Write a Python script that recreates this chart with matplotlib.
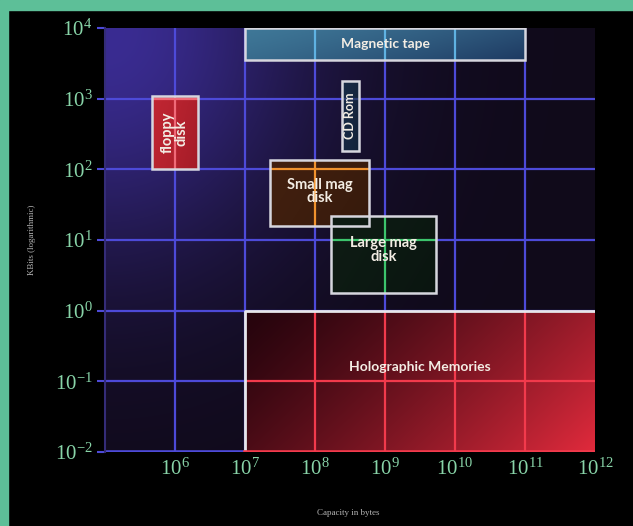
import numpy as np
import matplotlib
matplotlib.use('Agg')
import matplotlib.pyplot as plt
from matplotlib.patches import Rectangle
from matplotlib.ticker import FixedLocator, FixedFormatter, NullLocator

plt.rcParams['font.family'] = ['Liberation Serif', 'DejaVu Sans']

# ---------------- data ----------------
devices = ['Magnetic tape', 'floppy\ndisk', 'CD Rom', 'Small mag\ndisk',
           'Large mag\ndisk', 'Holographic Memories']
cap_lo = [1e7, 4.7e5, 2.4e8, 2.3e7, 1.7e8, 1e7]       # bytes
cap_hi = [1e11, 2.1e6, 4.3e8, 6.0e8, 5.4e9, 1e12]
rate_lo = [3.5e3, 100, 180, 16, 1.8, 1e-2]           # KBits
rate_hi = [1e4, 1100, 1800, 135, 22, 1]
x_exponents = [6, 7, 8, 9, 10, 11, 12]
y_exponents = [-2, -1, 0, 1, 2, 3, 4]
x_tick_labels = [r'$\mathregular{10^{%d}}$' % e for e in x_exponents]
y_tick_labels = [r'$\mathregular{10^{%d}}$' % e for e in y_exponents]
x_label = 'Capacity in bytes'
y_label = 'KBits (logarithmic)'

# ---------------- styles ----------------
label_rot = [0, 90, 90, 0, 0, 0]
label_size = [10, 10.5, 9, 10.5, 10.5, 10]
label_dy = [0, 0, 0, 1, 3, 10]   # points
c_tl = ['#3f7898', '#c02632', '#182a46', '#42200f', '#0e1c14', '#26040d']
c_br = ['#1e3a62', '#a41c28', '#132238', '#361a0c', '#0a1510', '#e02a3c']
accent = ['#5fb2e2', '#f06a78', '#2a3c72', '#f0922e', '#3cc46c', '#f23a4c']
grid_col = '#4d4ad8'
tick_col = '#88d4a8'

fig = plt.figure(figsize=(6.33, 5.26), dpi=100, facecolor='black')
# teal frame
fig.add_artist(Rectangle((0, 0), 8 / 633, 1, transform=fig.transFigure,
                         color='#5dbf98', zorder=0))
fig.add_artist(Rectangle((0, 1 - 10 / 526), 1, 10 / 526, transform=fig.transFigure,
                         color='#5dbf98', zorder=0))

ax = fig.add_axes([105 / 633, 74 / 526, 490 / 633, 424 / 526])
ax.set_xscale('log')
ax.set_yscale('log')
xlim = (10.0 ** 5, 10.0 ** 12)
ylim = (10.0 ** -2, 10.0 ** 4)
ax.set_xlim(*xlim)
ax.set_ylim(*ylim)
ax.set_autoscale_on(False)
ax.set_facecolor('#0e0812')


def to_axes(x, y):
    return ax.transAxes.inverted().transform(ax.transData.transform((x, y)))


def hex2rgb(h):
    return np.array([int(h[i:i + 2], 16) for i in (1, 3, 5)]) / 255.0


# background glow (top-left blue-violet)
h, w = 150, 180
vv, uu = np.mgrid[0:1:h * 1j, 0:1:w * 1j]
glow = np.exp(-((uu / 0.42) ** 2 + (vv / 0.55) ** 2))
base = hex2rgb('#100a1a')
purple = hex2rgb('#3a2c92')
bg = base + (purple - base) * glow[..., None]
ax.imshow(np.clip(bg, 0, 1), extent=[0, 1, 0, 1], transform=ax.transAxes,
          origin='upper', aspect='auto', interpolation='bilinear', zorder=0)

# global grid
for e in x_exponents[:-1]:
    ax.axvline(10.0 ** e, color=grid_col, lw=1.6, zorder=1)
for e in y_exponents[:-1]:
    ax.axhline(10.0 ** e, color=grid_col, lw=1.6 if e > -2 else 2.6, zorder=1)

# boxes
for i, name in enumerate(devices):
    x0, x1, y0, y1 = cap_lo[i], cap_hi[i], rate_lo[i], rate_hi[i]
    clip = Rectangle((x0, y0), x1 - x0, y1 - y0, transform=ax.transData)
    (ax0, ay0) = to_axes(x0, y0)
    (ax1, ay1) = to_axes(x1, y1)
    gv, gu = np.mgrid[0:1:80j, 0:1:120j]
    t = np.clip(0.7 * gu + 0.3 * gv, 0, 1) ** 1.3
    a, b = hex2rgb(c_tl[i]), hex2rgb(c_br[i])
    img = a + (b - a) * t[..., None]
    im = ax.imshow(img, extent=[ax0, ax1, ay0, ay1], transform=ax.transAxes,
                   origin='upper', aspect='auto', interpolation='bilinear', zorder=2)
    im.set_clip_path(clip)
    # coloured grid inside box
    for e in x_exponents[:-1]:
        if x0 < 10.0 ** e < x1:
            ln = ax.axvline(10.0 ** e, color=accent[i], lw=1.6, zorder=3)
            ln.set_clip_path(clip)
    for e in y_exponents[:-1]:
        if y0 < 10.0 ** e < y1:
            ln = ax.axhline(10.0 ** e, color=accent[i], lw=1.6, zorder=3)
            ln.set_clip_path(clip)
    if i == len(devices) - 1:
        ax.plot([x0, x0, x1], [y0, y1, y1], color='#e6e6ea', lw=2, zorder=4,
                solid_capstyle='butt')
        ax.plot([x0, x1], [y0, y0], color=accent[i], lw=2.6, zorder=4)
    else:
        ax.add_patch(Rectangle((x0, y0), x1 - x0, y1 - y0, facecolor='none',
                               edgecolor='#d6d6de', lw=1.8, zorder=4))
    cx = np.sqrt(x0 * x1)
    cy = np.sqrt(y0 * y1)
    ax.annotate(name, (cx, cy), xytext=(0, label_dy[i]), textcoords='offset points',
                ha='center', va='center', rotation=label_rot[i],
                multialignment='center', linespacing=0.95,
                fontsize=label_size[i], fontweight='bold', color='#f3ede4',
                family=['Lato', 'DejaVu Sans'], zorder=5)

# ticks
ax.xaxis.set_major_locator(FixedLocator(10.0 ** np.array(x_exponents)))
ax.xaxis.set_major_formatter(FixedFormatter(x_tick_labels))
ax.yaxis.set_major_locator(FixedLocator(10.0 ** np.array(y_exponents, dtype=float)))
ax.yaxis.set_major_formatter(FixedFormatter(y_tick_labels))
ax.xaxis.set_minor_locator(NullLocator())
ax.yaxis.set_minor_locator(NullLocator())
ax.tick_params(axis='y', length=6, width=1.5, color=grid_col, pad=3,
               labelsize=15, labelcolor=tick_col)
ax.tick_params(axis='x', length=0, pad=5, labelsize=15, labelcolor=tick_col)
for s in ['top', 'right', 'bottom']:
    ax.spines[s].set_visible(False)
ax.spines['left'].set_color('#342c78')
ax.spines['left'].set_linewidth(1.5)

ax.set_xlabel(x_label, fontsize=6.5, color='#b4b4b4')
ax.xaxis.set_label_coords(0.496, -0.134)
ax.set_ylabel(y_label, fontsize=6.5, color='#b4b4b4')
ax.yaxis.set_label_coords(-0.141, 0.5)

ax.set_xlim(*xlim)
ax.set_ylim(*ylim)
fig.savefig('out.png', dpi=100, facecolor='black')
